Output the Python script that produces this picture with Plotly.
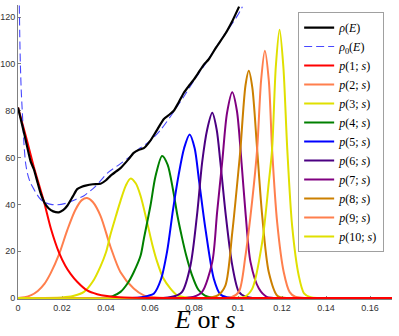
import plotly.graph_objects as go

# rho(E)
E_RHO = [0, 0.003, 0.0057, 0.0072, 0.0090, 0.0102, 0.0120, 0.0140, 0.0160, 0.0186,
         0.0205, 0.0224, 0.0250, 0.0269, 0.0290, 0.0307, 0.0340, 0.0375, 0.0400, 0.0420,
         0.0445, 0.0466, 0.0500, 0.0526, 0.0550, 0.0572, 0.0600, 0.0630, 0.0663, 0.0690,
         0.0708, 0.0730, 0.0754, 0.0780, 0.0799, 0.0822, 0.0845, 0.0867, 0.0900, 0.0943,
         0.0975, 0.1005]
RHO = [81.4, 69.5, 58.5, 55, 49, 45, 40.8, 38.2, 37, 36.6,
       37.5, 39.4, 43.5, 46.5, 47.5, 48, 48.6, 48.8, 50.3, 52.2,
       54, 55.5, 59, 62, 63.3, 64, 67, 71.5, 76.5, 78.5,
       80, 83.5, 87.7, 91, 93.3, 96.5, 99.7, 102, 107, 113,
       118.5, 124.5]

# rho_0(E)
E_RHO0 = [0.0006, 0.0008, 0.0011, 0.0015, 0.0019, 0.0027, 0.0034, 0.0042, 0.0055, 0.0072,
          0.0095, 0.0117, 0.0150, 0.0178, 0.0220, 0.0260, 0.0300, 0.0350, 0.0410, 0.0460,
          0.0510, 0.0557, 0.0600, 0.0650, 0.0700, 0.0724, 0.0750, 0.0800, 0.0850, 0.0900,
          0.0950, 0.1000, 0.1020]
RHO0 = [125, 112, 99, 88, 80.6, 66, 58, 53.6, 49.5, 46.5,
        43, 41, 40, 39.8, 40.5, 42, 43.7, 47.5, 53.7, 57,
        60.5, 64.2, 67, 72, 78.5, 82, 85.5, 93, 99.8, 107,
        114, 121, 124.5]

# p(n; s) for n = 1..10
S_P = {
    1: [0, 0.0036, 0.0072, 0.0100, 0.0120, 0.0150, 0.0186, 0.0215, 0.0239, 0.0270,
        0.0314, 0.0360, 0.0405, 0.0460, 0.0520, 0.0600, 0.1000, 0.1700],
    2: [0, 0.003, 0.006, 0.009, 0.012, 0.0148, 0.0186, 0.0224, 0.0260, 0.0290,
        0.0314, 0.0340, 0.0375, 0.0420, 0.0466, 0.0526, 0.0572, 0.0620, 0.0680, 0.1700],
    3: [0, 0.020, 0.025, 0.030, 0.034, 0.0375, 0.040, 0.042, 0.0445, 0.0466,
        0.049, 0.0511, 0.0535, 0.0557, 0.0587, 0.061, 0.0633, 0.066, 0.0693, 0.0724,
        0.076, 0.080, 0.1700],
    4: [0, 0.038, 0.0430, 0.0466, 0.0500, 0.0526, 0.0557, 0.0572, 0.0602, 0.0625,
        0.0655, 0.0680, 0.0705, 0.0725, 0.0745, 0.0765, 0.0790, 0.0820, 0.0850, 0.0880,
        0.1700],
    5: [0, 0.052, 0.056, 0.059, 0.0617, 0.065, 0.0678, 0.0705, 0.073, 0.0755,
        0.078, 0.0803, 0.0822, 0.0852, 0.089, 0.092, 0.095, 0.099, 0.1700],
    6: [0, 0.066, 0.070, 0.0725, 0.0746, 0.0784, 0.0815, 0.0837, 0.0860, 0.0883,
        0.0903, 0.0920, 0.0943, 0.0974, 0.1004, 0.1034, 0.1070, 0.1700],
    7: [0, 0.076, 0.0800, 0.0837, 0.0883, 0.0905, 0.0928, 0.0950, 0.0974, 0.0995,
        0.1016, 0.1034, 0.1057, 0.1095, 0.1130, 0.1160, 0.1700],
    8: [0, 0.084, 0.0880, 0.0910, 0.0943, 0.0974, 0.1004, 0.1011, 0.1034, 0.1049,
        0.1065, 0.1087, 0.1110, 0.1140, 0.1180, 0.1220, 0.1700],
    9: [0, 0.092, 0.0970, 0.1004, 0.1034, 0.1065, 0.1087, 0.1105, 0.1122, 0.1140,
        0.1155, 0.1178, 0.1208, 0.1235, 0.1260, 0.1300, 0.1700],
    10: [0, 0.098, 0.1030, 0.1065, 0.1110, 0.1140, 0.1155, 0.1172, 0.1189, 0.1206,
         0.1224, 0.1246, 0.1276, 0.1300, 0.1330, 0.1370, 0.1700],
}
P = {
    1: [81.4, 69, 56, 47, 40.5, 29.5, 19.5, 13.8, 10.3, 6.8,
        3.2, 1.6, 0.8, 0.3, 0.1, 0, 0, 0],
    2: [0, 0.3, 1.2, 3, 6, 10.5, 18.5, 29, 37.5, 41.8,
        42.7, 41, 35.1, 22, 11, 4, 1.1, 0.3, 0, 0],
    3: [0, 0.2, 0.8, 2.6, 7, 13.5, 19.5, 27, 35, 41.5,
        48, 51, 49, 43.7, 32.3, 23, 15.3, 8.5, 4, 1.1,
        0.3, 0, 0],
    4: [0, 0, 0.8, 2.6, 6.5, 11, 18, 25.2, 39.4, 52,
        60.7, 57, 46, 35, 26, 18, 10, 3.5, 1, 0.2,
        0],
    5: [0, 0, 0.3, 0.9, 1.8, 8, 20, 38, 52.5, 64,
        69.9, 64, 50.8, 29.5, 8.2, 1.5, 0.3, 0, 0],
    6: [0, 0, 0.5, 1.2, 2.6, 13.9, 36.6, 57.9, 72, 79.1,
        72, 57.9, 36.6, 13.9, 2.6, 0.5, 0, 0],
    7: [0, 0, 0.5, 2.6, 15.3, 36.6, 57.9, 79, 87.9, 80,
        57.9, 36.6, 15.3, 4, 0.5, 0, 0],
    8: [0, 0, 0.3, 1.2, 5.4, 28, 56.4, 63.5, 90.8, 97.1,
        90, 63.5, 35.1, 11, 0.8, 0, 0],
    9: [0, 0, 0.3, 2.6, 18.1, 42, 63.5, 93, 105.7, 93,
        63.5, 32.3, 11, 2.5, 0.5, 0, 0],
    10: [0, 0, 0.5, 4, 23.8, 49.4, 63.5, 99, 114.6, 99,
         63.5, 30.9, 9.6, 2, 0.3, 0, 0],
}

X_TICKS = [0, 0.02, 0.04, 0.06, 0.08, 0.1, 0.12, 0.14, 0.16]
X_TICK_LABELS = ["0", "0.02", "0.04", "0.06", "0.08", "0.1", "0.12", "0.14", "0.16"]
Y_TICKS = [0, 20, 40, 60, 80, 100, 120]

P_COLORS = {
    1: "#ff0000",
    2: "#ff7f4d",
    3: "#e0e000",
    4: "#008000",
    5: "#0000ff",
    6: "#4b0082",
    7: "#800080",
    8: "#cc8000",
    9: "#ff7f4d",
    10: "#e0e000",
}

SERIF = "Liberation Serif"

fig = go.Figure()

# later p curves underneath, p(1) on top so the red baseline shows
for n in [2, 3, 4, 5, 6, 7, 8, 9, 10, 1]:
    fig.add_trace(go.Scatter(
        x=S_P[n], y=P[n], mode="lines",
        line=dict(color=P_COLORS[n], width=2, shape="spline", smoothing=0.8),
        name="<i>p</i>(%d; <i>s</i>)" % n,
        legendrank=n + 2,
    ))

fig.add_trace(go.Scatter(
    x=E_RHO0, y=RHO0, mode="lines",
    line=dict(color="rgba(40,40,255,0.85)", width=1.1, dash="8px,4px", shape="spline", smoothing=0.6),
    name="<i>ρ</i><sub>0</sub>(<i>E</i>)",
    legendrank=2,
))
fig.add_trace(go.Scatter(
    x=E_RHO, y=RHO, mode="lines",
    line=dict(color="black", width=2.2, shape="spline", smoothing=0.6),
    name="<i>ρ</i>(<i>E</i>)",
    legendrank=1,
))

fig.update_layout(
    width=399,
    height=336,
    margin=dict(l=18, r=7, t=5, b=37),
    paper_bgcolor="white",
    plot_bgcolor="white",
    showlegend=True,
    legend=dict(
        x=0.979, y=0.976, xanchor="right", yanchor="top",
        bgcolor="white", bordercolor="#a0a0a0", borderwidth=1,
        font=dict(family=SERIF, size=12, color="black"),
        itemwidth=30, tracegroupgap=0,
    ),
    xaxis=dict(
        range=[0, 0.17],
        tickvals=X_TICKS, ticktext=X_TICK_LABELS,
        ticks="inside", ticklen=3, tickcolor="#808080",
        showline=True, linecolor="#808080", linewidth=1,
        showgrid=False, zeroline=False, layer="below traces",
        automargin=False,
        tickfont=dict(family="Liberation Sans", size=9, color="#333333"),
    ),
    yaxis=dict(
        range=[-0.45, 125.2],
        tickvals=Y_TICKS,
        ticks="inside", ticklen=3, tickcolor="#808080",
        showline=True, linecolor="#808080", linewidth=1,
        showgrid=False, zeroline=False, layer="below traces",
        automargin=False,
        tickfont=dict(family="Liberation Sans", size=9, color="#333333"),
    ),
    annotations=[dict(
        text="<i>E</i> or <i>s</i>", xref="paper", yref="paper",
        x=0.5, y=-0.07, xanchor="center", yanchor="middle", showarrow=False,
        borderpad=0,
        font=dict(family=SERIF, size=26, color="black"),
    )],
)

# page body has a default 8px margin; drop it so the figure sits at the corner
fig.write_html(
    "out.html",
    config={"displayModeBar": False},
    post_script="document.body.style.margin = '0';",
)
